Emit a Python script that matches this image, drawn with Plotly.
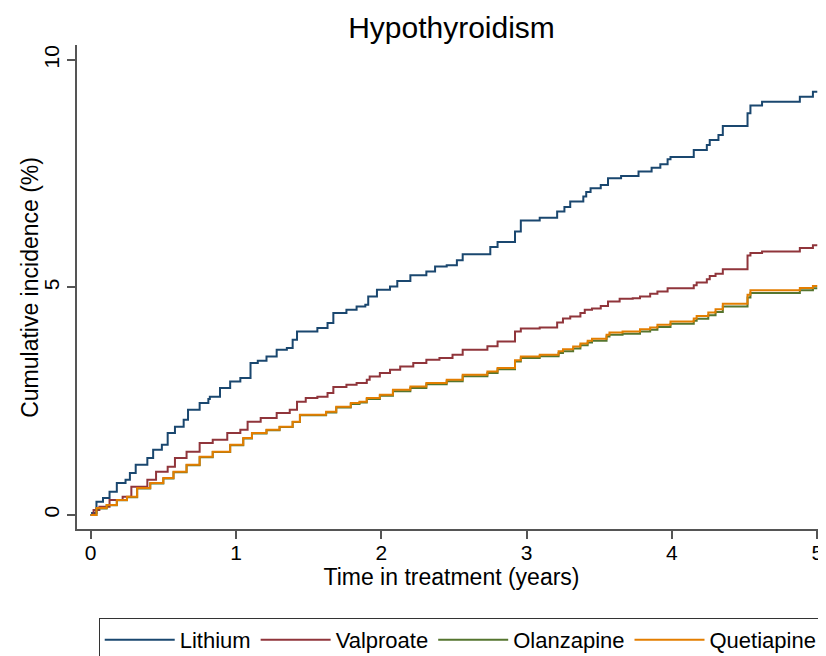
"""Cumulative incidence of hypothyroidism by drug (Stata-style step curves)."""

import plotly.graph_objects as go

# (years in treatment, cumulative incidence %)
lithium = [
    (0, 0), (0.01, 0.04), (0.04, 0.29), (0.085, 0.37), (0.13, 0.51), (0.18, 0.70),
    (0.24, 0.77), (0.27, 0.92), (0.31, 1.10), (0.39, 1.25), (0.43, 1.43), (0.49, 1.54),
    (0.53, 1.80), (0.58, 1.94), (0.64, 2.09), (0.67, 2.31), (0.75, 2.46), (0.81, 2.55),
    (0.82, 2.60), (0.89, 2.79), (0.96, 2.93), (1.03, 3.01), (1.10, 3.34), (1.15, 3.39),
    (1.21, 3.48), (1.28, 3.63), (1.35, 3.67), (1.39, 3.85), (1.42, 4.03), (1.56, 4.11),
    (1.63, 4.22), (1.67, 4.44), (1.76, 4.51), (1.83, 4.58), (1.89, 4.62), (1.91, 4.80),
    (1.97, 4.95), (2.06, 5.02), (2.11, 5.14), (2.20, 5.27), (2.31, 5.35), (2.37, 5.46),
    (2.45, 5.49), (2.52, 5.60), (2.56, 5.73), (2.75, 5.89), (2.80, 6.00), (2.92, 6.23),
    (2.96, 6.47), (3.09, 6.53), (3.21, 6.67), (3.26, 6.77), (3.30, 6.89), (3.39, 7.00),
    (3.41, 7.10), (3.44, 7.18), (3.51, 7.25), (3.56, 7.40), (3.65, 7.45), (3.77, 7.55),
    (3.86, 7.63), (3.92, 7.71), (3.97, 7.82), (3.99, 7.87), (4.15, 8.02), (4.24, 8.13),
    (4.26, 8.24), (4.32, 8.35), (4.35, 8.55), (4.52, 8.83), (4.54, 9.00), (4.62, 9.08),
    (4.88, 9.19), (4.97, 9.30), (5.00, 9.30),
]

valproate = [
    (0, 0), (0.02, 0.11), (0.06, 0.18), (0.13, 0.33), (0.22, 0.40), (0.28, 0.62),
    (0.39, 0.77), (0.45, 0.95), (0.53, 1.06), (0.58, 1.25), (0.66, 1.39), (0.75, 1.58),
    (0.84, 1.65), (0.94, 1.80), (1.03, 1.87), (1.08, 2.05), (1.17, 2.13), (1.28, 2.24),
    (1.37, 2.31), (1.42, 2.49), (1.48, 2.57), (1.56, 2.60), (1.63, 2.68), (1.67, 2.81),
    (1.76, 2.86), (1.83, 2.90), (1.90, 2.97), (1.92, 3.04), (1.99, 3.12), (2.06, 3.19),
    (2.13, 3.26), (2.22, 3.34), (2.31, 3.41), (2.40, 3.45), (2.49, 3.52), (2.56, 3.63),
    (2.73, 3.71), (2.80, 3.81), (2.92, 4.03), (2.96, 4.10), (3.09, 4.12), (3.21, 4.23),
    (3.25, 4.32), (3.30, 4.36), (3.37, 4.44), (3.40, 4.51), (3.45, 4.54), (3.51, 4.59),
    (3.56, 4.69), (3.64, 4.75), (3.73, 4.76), (3.78, 4.80), (3.85, 4.86), (3.90, 4.91),
    (3.97, 4.98), (4.15, 5.05), (4.17, 5.11), (4.24, 5.18), (4.26, 5.25), (4.30, 5.30),
    (4.35, 5.40), (4.52, 5.70), (4.54, 5.76), (4.62, 5.79), (4.88, 5.87), (4.97, 5.93),
    (5.00, 5.93),
]

olanzapine = [
    (0, 0), (0.04, 0.14), (0.11, 0.21), (0.18, 0.32), (0.25, 0.39), (0.32, 0.58),
    (0.41, 0.69), (0.50, 0.80), (0.57, 0.94), (0.66, 1.09), (0.75, 1.27), (0.84, 1.38),
    (0.96, 1.53), (1.05, 1.68), (1.11, 1.79), (1.21, 1.86), (1.30, 1.93), (1.39, 2.04),
    (1.44, 2.19), (1.62, 2.25), (1.69, 2.36), (1.79, 2.44), (1.85, 2.47), (1.90, 2.55),
    (1.99, 2.62), (2.08, 2.72), (2.20, 2.79), (2.31, 2.87), (2.45, 2.94), (2.56, 3.05),
    (2.73, 3.12), (2.80, 3.20), (2.92, 3.37), (2.96, 3.45), (3.09, 3.49), (3.22, 3.56),
    (3.25, 3.60), (3.32, 3.66), (3.37, 3.73), (3.42, 3.79), (3.45, 3.83), (3.55, 3.92),
    (3.57, 3.96), (3.66, 3.98), (3.78, 4.03), (3.85, 4.07), (3.90, 4.13), (3.99, 4.20),
    (4.15, 4.27), (4.17, 4.31), (4.25, 4.39), (4.30, 4.46), (4.35, 4.58), (4.52, 4.78),
    (4.54, 4.88), (4.88, 4.94), (4.97, 4.98), (5.00, 4.98),
]

quetiapine = [
    (0, 0), (0.04, 0.15), (0.11, 0.22), (0.18, 0.33), (0.25, 0.40), (0.32, 0.59),
    (0.41, 0.70), (0.50, 0.81), (0.57, 0.95), (0.66, 1.10), (0.75, 1.28), (0.84, 1.39),
    (0.96, 1.54), (1.05, 1.69), (1.11, 1.80), (1.21, 1.87), (1.30, 1.94), (1.39, 2.05),
    (1.44, 2.20), (1.62, 2.27), (1.69, 2.38), (1.79, 2.46), (1.85, 2.49), (1.90, 2.57),
    (1.99, 2.64), (2.08, 2.75), (2.20, 2.82), (2.31, 2.90), (2.45, 2.97), (2.56, 3.08),
    (2.73, 3.15), (2.80, 3.23), (2.92, 3.40), (2.96, 3.48), (3.09, 3.52), (3.22, 3.60),
    (3.25, 3.64), (3.32, 3.70), (3.37, 3.77), (3.42, 3.83), (3.45, 3.87), (3.55, 3.96),
    (3.57, 4.01), (3.66, 4.03), (3.78, 4.08), (3.85, 4.12), (3.90, 4.18), (3.99, 4.25),
    (4.15, 4.32), (4.17, 4.37), (4.25, 4.45), (4.30, 4.52), (4.35, 4.64), (4.52, 4.84),
    (4.54, 4.94), (4.88, 4.99), (4.97, 5.03), (5.00, 5.03),
]

series = [
    ("Lithium", lithium, "#1a476f"),
    ("Valproate", valproate, "#90353b"),
    ("Olanzapine", olanzapine, "#55752f"),
    ("Quetiapine", quetiapine, "#e37e00"),
]

FONT = "Liberation Sans, Arial, sans-serif"

fig = go.Figure()
for name, pts, color in series:
    fig.add_trace(go.Scatter(
        x=[p[0] for p in pts],
        y=[p[1] for p in pts],
        mode="lines",
        line=dict(color=color, width=2, shape="hv"),
        name=name,
    ))

axis_common = dict(
    showline=True, linecolor="#555555", linewidth=1.5,
    ticks="outside", ticklen=8, tickwidth=1.5, tickcolor="#555555",
    showgrid=False, zeroline=False, automargin=False,
    tickfont=dict(size=21, color="black"),
)

# the page body adds an 8px offset, so margins are shifted to compensate
fig.update_layout(
    width=826, height=656,
    margin=dict(l=69, r=8, t=37, b=135, autoexpand=False),
    paper_bgcolor="white", plot_bgcolor="white",
    font=dict(family=FONT, color="black"),
    title=dict(text="Hypothyroidism", x=0.5, xref="paper", xanchor="center",
               y=1 - 19 / 656, yanchor="middle", font=dict(size=30)),
    xaxis=dict(range=[-0.094, 5.06], tickvals=[0, 1, 2, 3, 4, 5],
               ticklabelstandoff=-4,
               title=dict(text="Time in treatment (years)", font=dict(size=23), standoff=0),
               **axis_common),
    yaxis=dict(range=[-0.31, 10.33], tickvals=[0, 5, 10], tickangle=-90,
               **axis_common),
    legend=dict(orientation="h", x=0.029, xanchor="left", y=-0.184, yanchor="top",
                bordercolor="#333333", borderwidth=1, font=dict(size=22),
                itemwidth=70, traceorder="normal"),
)

# y-axis title placed as a rotated annotation to sit close to the tick labels
fig.add_annotation(
    text="Cumulative incidence (%)", textangle=-90,
    xref="paper", yref="paper", x=-0.063, y=0.5,
    xanchor="center", yanchor="middle", showarrow=False,
    font=dict(size=23, color="black"),
)

fig.write_html("out.html")
